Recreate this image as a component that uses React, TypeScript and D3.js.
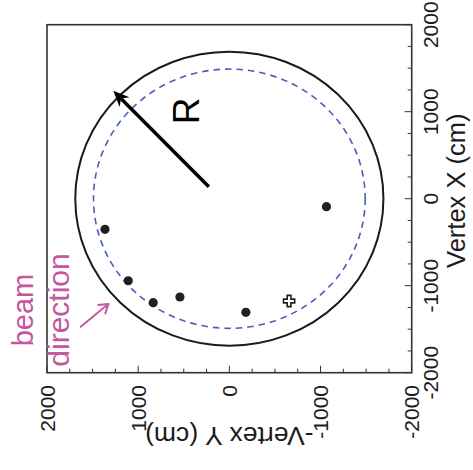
import React from 'react';
import * as d3 from 'd3';

const W = 473;
const H = 470;

// Event vertices: horizontal = -Vertex Y, vertical = Vertex X (cm)
const negVertexY = [1364, 1109, 835, 542, -181, -1065];
const vertexX = [-352, -943, -1195, -1130, -1306, -92];
// Special event drawn as an outlined cross
const crossNegVertexY = [-655];
const crossVertexX = [-1176];

const majorTicks = [2000, 1000, 0, -1000, -2000];
const minorStep = 250;

const detectorRadius = 1690;
const fiducialRadius = 1490;

// Radius arrow, from near the centre out to the wall
const radiusArrowFrom = [225, 138];
const radiusArrowTo = [1273, 1241];

const FONT = '"Liberation Sans", Arial, Helvetica, sans-serif';
const PINK = '#c4579f';
const INK = '#1e1b1c';

export default function App() {
  const left = 47;
  const right = 411.7;
  const top = 24.7;
  const bottom = 372.7;

  const h = d3.scaleLinear().domain([2000, -2000]).range([left, right]);
  const v = d3.scaleLinear().domain([-2000, 2000]).range([bottom, top]);

  const minor = d3.range(-2000, 2000 + 1, minorStep).filter((t) => t % 1000 !== 0);

  const cx = h(0);
  const cy = v(0);
  const ell = (r: number) => ({ rx: Math.abs(h(r) - h(0)), ry: Math.abs(v(r) - v(0)) });
  const outer = ell(detectorRadius);
  const inner = ell(fiducialRadius);

  const points = negVertexY.map((y, i) => ({ px: h(y), py: v(vertexX[i]) }));
  const crosses = crossNegVertexY.map((y, i) => ({ px: h(y), py: v(crossVertexX[i]) }));
  const crossPath = d3.symbol().type(d3.symbolCross).size(70)() as string;

  const ax0 = h(radiusArrowFrom[0]);
  const ay0 = v(radiusArrowFrom[1]);
  const ax1 = h(radiusArrowTo[0]);
  const ay1 = v(radiusArrowTo[1]);
  const ang = (Math.atan2(ay1 - ay0, ax1 - ax0) * 180) / Math.PI;

  return (
    <svg
      width={W}
      height={H}
      style={{ position: 'absolute', left: 0, top: 0, background: '#fff' }}
      fontFamily={FONT}
    >
      <rect x={0} y={0} width={W} height={H} fill="#fff" />

      {/* detector wall and fiducial boundary */}
      <ellipse cx={cx} cy={cy} rx={outer.rx} ry={outer.ry} fill="none" stroke="#1a1a1a" strokeWidth={2} />
      <ellipse
        cx={cx}
        cy={cy}
        rx={inner.rx}
        ry={inner.ry}
        fill="none"
        stroke="#4a5cbc"
        strokeWidth={1.6}
        strokeDasharray="6.5 5"
      />

      {/* radius arrow */}
      <g transform={`translate(${ax1},${ay1}) rotate(${ang})`}>
        <line x1={-Math.hypot(ax1 - ax0, ay1 - ay0)} y1={0} x2={-8} y2={0} stroke="#000" strokeWidth={3.5} />
        <path d="M0,0 L-16,-7 L-11,0 L-16,7 Z" fill="#000" />
      </g>
      <text
        transform={`translate(199,111) rotate(-90)`}
        textAnchor="middle"
        fontSize={37}
        fill="#000"
      >
        R
      </text>

      {/* events */}
      {points.map((p, i) => (
        <circle key={i} cx={p.px} cy={p.py} r={4.6} fill="#231f20" />
      ))}
      {crosses.map((p, i) => (
        <path
          key={i}
          d={crossPath}
          transform={`translate(${p.px},${p.py})`}
          fill="#fff"
          stroke="#231f20"
          strokeWidth={1.6}
        />
      ))}

      {/* frame */}
      <rect x={left} y={top} width={right - left} height={bottom - top} fill="none" stroke="#333" strokeWidth={1.6} />

      {/* bottom ticks (inward) */}
      {majorTicks.map((t) => (
        <line key={'bm' + t} x1={h(t)} x2={h(t)} y1={bottom} y2={bottom - 7} stroke="#333" strokeWidth={1} />
      ))}
      {minor.map((t) => (
        <line key={'bn' + t} x1={h(t)} x2={h(t)} y1={bottom} y2={bottom - 4} stroke="#333" strokeWidth={1} />
      ))}
      {/* right ticks (inward) */}
      {majorTicks.map((t) => (
        <line key={'rm' + t} x1={right} x2={right - 7} y1={v(t)} y2={v(t)} stroke="#333" strokeWidth={1} />
      ))}
      {minor.map((t) => (
        <line key={'rn' + t} x1={right} x2={right - 4} y1={v(t)} y2={v(t)} stroke="#333" strokeWidth={1} />
      ))}

      {/* bottom tick labels */}
      {majorTicks.map((t) => (
        <text
          key={'bl' + t}
          transform={`translate(${h(t) + 7.5},385) rotate(-90)`}
          textAnchor="end"
          fontSize={21}
          fill={INK}
        >
          {t}
        </text>
      ))}
      {/* right tick labels */}
      {majorTicks.map((t) => (
        <text
          key={'rl' + t}
          transform={`translate(437.5,${v(t)}) rotate(-90)`}
          textAnchor="middle"
          fontSize={21}
          fill={INK}
        >
          {t}
        </text>
      ))}

      {/* axis titles */}
      <text
        transform={`translate(${cx},427) rotate(180)`}
        textAnchor="middle"
        fontSize={26.5}
        fill={INK}
      >
        -Vertex Y (cm)
      </text>
      <text
        transform={`translate(465,${cy - 8}) rotate(-90)`}
        textAnchor="middle"
        fontSize={25.5}
        fill={INK}
      >
        Vertex X (cm)
      </text>

      {/* beam direction note */}
      <text transform="translate(33,310) rotate(-90)" textAnchor="middle" fontSize={29} fill={PINK}>
        beam
      </text>
      <text transform="translate(69,310) rotate(-90)" textAnchor="middle" fontSize={30} fill={PINK}>
        direction
      </text>
      <g stroke={PINK} strokeWidth={2} fill="none" strokeLinecap="round">
        <line x1={80.7} y1={326.7} x2={108.3} y2={304} />
        <path
          d={`M${108.3 - 10},${304 + 1} L108.3,304 L${108.3 - 3},${304 + 9.5}`}
          strokeLinejoin="round"
        />
      </g>
    </svg>
  );
}
